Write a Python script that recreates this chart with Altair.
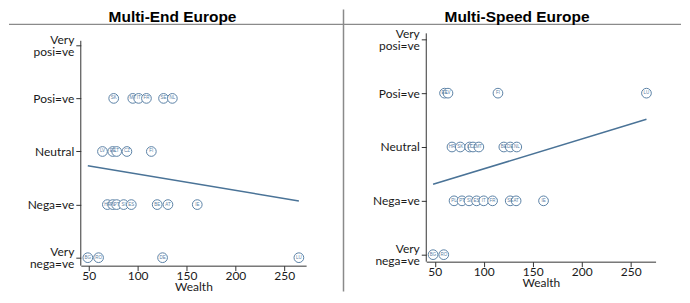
import json
import altair as alt
import pandas as pd

# ---------------- data ----------------
panel_titles = ["Multi-End Europe", "Multi-Speed Europe"]

end_country = ["SK", "MT", "IT", "FR", "SE", "NL",
               "LV", "EE", "LT", "CZ", "FI",
               "HR", "PL", "PT", "SI", "ES", "BE", "AT", "IE",
               "BG", "RO", "DE", "LU"]
end_wealth = [75.5, 95, 101, 109, 126.5, 135.5,
              64, 74.5, 78.5, 89, 114,
              69, 74.5, 78.5, 85.7, 93.5, 120, 131, 161,
              49, 60, 125.5, 265]
end_attitude = [4, 4, 4, 4, 4, 4,
                3, 3, 3, 3, 3,
                2, 2, 2, 2, 2, 2, 2, 2,
                1, 1, 1, 1]

speed_country = ["EE", "LV", "FI", "LU",
                 "HR", "SK", "LT", "CZ", "MT", "BE", "DE", "NL",
                 "PL", "PT", "SI", "ES", "IT", "FR", "SE", "AT", "IE",
                 "BG", "RO"]
speed_wealth = [60, 63.5, 114.5, 266,
                67.6, 76, 85.6, 89, 95, 120.5, 127, 133.7,
                69.7, 77.8, 85, 92.7, 100, 109, 127, 133, 161,
                48.3, 59.2]
speed_attitude = [4, 4, 4, 4,
                  3, 3, 3, 3, 3, 3, 3, 3,
                  2, 2, 2, 2, 2, 2, 2, 2, 2,
                  1, 1]

y_levels = [1, 2, 3, 4, 5]
y_labels = [["Very", "nega=ve"], "Nega=ve", "Neutral", "Posi=ve", ["Very", "posi=ve"]]
x_ticks = [50, 100, 150, 200, 250]

# ---------------- styling ----------------
POINT = "#5b82a6"
LINE = "#4a7397"
FRAME = "#8a8a8a"
AXIS = "#333333"
TXT = "#1a1a1a"

label_expr = ""
for v, lab in zip(y_levels, y_labels):
    label_expr += f"datum.value == {v} ? {json.dumps(lab)} : "
label_expr += "''"

one = pd.DataFrame({"k": [0]})


def panel(country, wealth, attitude, title, xdom, ydom, width, xoff,
          yline, bg_left, bg_right, title_x, divider=None):
    df = pd.DataFrame({"country": country, "wealth": wealth, "attitude": attitude})
    x = alt.X("wealth:Q", scale=alt.Scale(domain=xdom, nice=False, zero=False),
              axis=alt.Axis(values=x_ticks, title="Wealth", offset=xoff, grid=False,
                            tickSize=5, labelPadding=0, titlePadding=0, zindex=1))
    y = alt.Y("attitude:Q", scale=alt.Scale(domain=ydom, nice=False, zero=False),
              axis=alt.Axis(values=y_levels, labelExpr=label_expr, domain=False,
                            title=None, grid=False, tickSize=5, labelPadding=2,
                            labelLineHeight=12, zindex=1,
                            labelOffset={"condition": {"test": "datum.value == 1 || datum.value == 5",
                                                       "value": -6},
                                         "value": 0}))

    bg = alt.Chart(one).mark_rect(color="white").encode(
        x=alt.value(bg_left), x2=alt.value(bg_right),
        y=alt.value(-24), y2=alt.value(250))
    sep = alt.Chart(one).mark_rule(color=FRAME, strokeWidth=1.5).encode(
        x=alt.value(bg_left), x2=alt.value(bg_right), y=alt.value(-9))
    ttl = alt.Chart(one).mark_text(text=title, font="Liberation Sans", fontSize=15.5,
                                   fontWeight="bold", color="#000000",
                                   align="center", baseline="alphabetic").encode(
        x=alt.value(title_x), y=alt.value(-11.5))
    yaxis_line = alt.Chart(one).mark_rule(color=AXIS, strokeWidth=1).encode(
        x=alt.value(0), y=alt.datum(yline[0]), y2=alt.datum(yline[1]))

    reg = alt.Chart(df).transform_regression("wealth", "attitude").mark_line(
        color=LINE, strokeWidth=1.5).encode(x=x, y=y)
    pts = alt.Chart(df).mark_circle(fill="white", stroke=POINT, strokeWidth=1,
                                    size=95, opacity=1).encode(x=x, y=y)
    txt = alt.Chart(df).mark_text(fontSize=4.5, color=POINT, font="Liberation Sans").encode(
        x=x, y=y, text="country:N")

    layers = [bg, sep, ttl]
    if divider is not None:
        layers.append(alt.Chart(one).mark_rule(color=FRAME, strokeWidth=1.5).encode(
            x=alt.value(divider), y=alt.value(-24), y2=alt.value(259)))
    layers += [yaxis_line, pts, txt, reg]
    return alt.layer(*layers).properties(width=width, height=233)


left = panel(end_country, end_wealth, end_attitude, panel_titles[0],
             [41.8, 272.4], [0.85, 5.225], 226, 0, [0.85, 5.085],
             -72, 263.5, 92)
right = panel(speed_country, speed_wealth, speed_attitude, panel_titles[1],
              [41.35, 275.3], [0.796, 5.111], 230, -4, [0.87, 5.111],
              -82.5, 255.5, 91, divider=-83)

chart = alt.hconcat(left, right, spacing=120.5, bounds="flush").properties(
    padding=0
).configure_view(strokeWidth=0).configure_axis(
    labelFont="Lato", labelFontSize=12, labelColor=TXT,
    titleFont="Lato", titleFontSize=12, titleFontWeight="normal", titleColor=TXT,
    tickColor=AXIS, domainColor=AXIS, domainWidth=1, tickWidth=1
)

chart.save("out.html", embed_options={"renderer": "svg", "actions": False})
